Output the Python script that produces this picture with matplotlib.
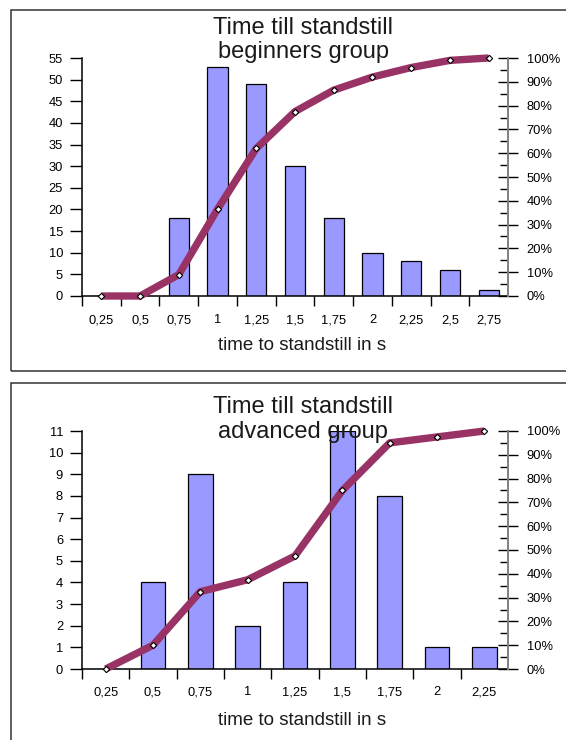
import numpy as np
import matplotlib
matplotlib.use('Agg')
import matplotlib.pyplot as plt
from matplotlib.patches import Rectangle
from matplotlib.ticker import MultipleLocator, FixedLocator, NullFormatter, FuncFormatter


# ============================================================
# data
# ============================================================
beg_labels = ['0,25', '0,5', '0,75', '1', '1,25', '1,5', '1,75', '2', '2,25', '2,5', '2,75']
beg_counts = [0, 0, 18, 53, 49, 30, 18, 10, 8, 6, 1.5]
beg_cum = [0, 0, 9, 36.5, 62, 77.5, 86.5, 92, 96, 99, 100]

adv_labels = ['0,25', '0,5', '0,75', '1', '1,25', '1,5', '1,75', '2', '2,25']
adv_counts = [0, 4, 9, 2, 4, 11, 8, 1, 1]
adv_cum = [0, 10, 32.5, 37.5, 47.5, 75, 95, 97.5, 100]

W, H = 566, 740
BAR = '#9999ff'
LINE = '#993366'
plt.rcParams['font.family'] = 'Liberation Sans'


def fx(px):
    return px / W


def fy(py):
    return 1 - py / H


# ============================================================
# panel
# ============================================================
def panel(fig, top, bottom, labels, counts, cum, ymax, ystep, titles, title_base, xlab_base, xpad):
    ax = fig.add_axes([fx(82), fy(bottom), fx(508 - 82), (bottom - top) / H])
    n = len(labels)
    x = np.arange(n)

    ax.bar(x, counts, width=0.52, color=BAR, edgecolor='black', linewidth=0.9, zorder=2)
    ax.set_xlim(-0.5, n - 0.5)
    ax.set_ylim(0, ymax)

    # category boundaries get the ticks, centers get the labels
    ax.xaxis.set_major_locator(FixedLocator(np.arange(n) - 0.5))
    ax.xaxis.set_major_formatter(NullFormatter())
    ax.xaxis.set_minor_locator(FixedLocator(x))
    ax.set_xticklabels(labels, minor=True)
    ax.tick_params(axis='x', which='major', direction='out', length=7.4, width=1)
    ax.tick_params(axis='x', which='minor', length=0, pad=xpad, labelsize=9.3)

    ax.yaxis.set_major_locator(MultipleLocator(ystep))
    ax.tick_params(axis='y', direction='out', length=8.6, width=1, pad=5, labelsize=9.3)

    ax.spines['top'].set_visible(False)
    ax.spines['right'].set_visible(False)
    for s in ('left', 'bottom'):
        ax.spines[s].set_linewidth(1.1)

    ax2 = ax.twinx()
    ax2.plot(x, cum, color=LINE, lw=5.3, solid_capstyle='butt', zorder=3, clip_on=False)
    ax2.plot(x, cum, ls='none', marker='D', ms=3.2, mfc='white', mec='black', mew=0.8,
             zorder=4, clip_on=False)
    ax2.set_ylim(0, 100)
    ax2.yaxis.set_major_locator(MultipleLocator(10))
    ax2.yaxis.set_minor_locator(MultipleLocator(5))
    ax2.yaxis.set_major_formatter(FuncFormatter(lambda v, p: '%d%%' % round(v)))
    ax2.tick_params(axis='y', which='major', direction='inout', length=14, width=1, pad=6.5, labelsize=9.3)
    ax2.tick_params(axis='y', which='minor', direction='in', length=5.8, width=1)
    for s in ('top', 'left', 'bottom'):
        ax2.spines[s].set_visible(False)
    ax2.spines['right'].set_color('#808080')
    ax2.spines['right'].set_linewidth(1.4)

    for t, b in zip(titles, title_base):
        fig.text(fx(303), fy(b), t, ha='center', va='baseline', fontsize=17, color='#1a1a1a')
    fig.text(fx(302), fy(xlab_base), 'time to standstill in s', ha='center', va='baseline',
             fontsize=13.5, color='#1a1a1a')
    return ax


fig = plt.figure(figsize=(W / 100, H / 100), dpi=100)

# chart frames
fig.patches.append(Rectangle((fx(10.5), fy(370.5)), fx(600), (370.5 - 10) / H, transform=fig.transFigure,
                             fill=False, edgecolor='#333333', lw=1.1))
fig.patches.append(Rectangle((fx(10.5), fy(760)), fx(600), (760 - 383) / H, transform=fig.transFigure,
                             fill=False, edgecolor='#333333', lw=1.1))

panel(fig, 58, 296, beg_labels, beg_counts, beg_cum, 55, 5,
      ['Time till standstill', 'beginners group'], [34, 58], 350, 13)
panel(fig, 431, 669, adv_labels, adv_counts, adv_cum, 11, 1,
      ['Time till standstill', 'advanced group'], [413, 438], 725, 12.3)

fig.savefig('out.png', dpi=100)
